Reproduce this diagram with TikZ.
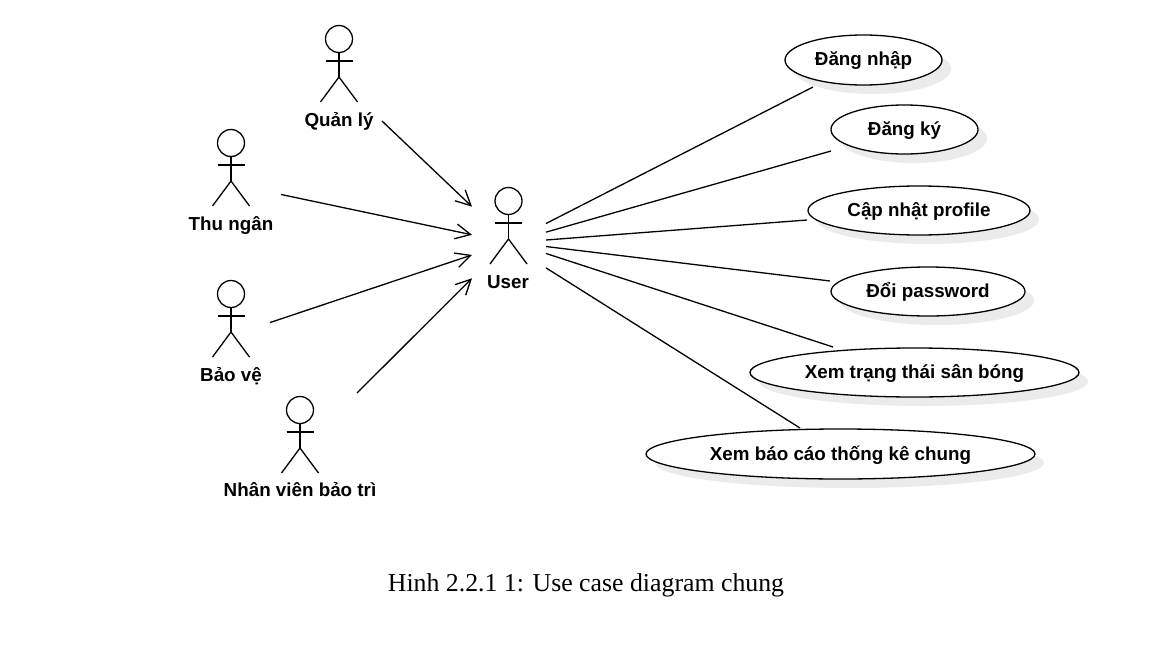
\documentclass[tikz,border=0pt]{standalone}
\usepackage{fontspec}
\setmainfont{Liberation Serif}
\newfontfamily\lblfont{Liberation Sans}
\usepackage{tikz}
\usetikzlibrary{shapes.geometric,shadows,arrows.meta}

\begin{document}
\begin{tikzpicture}[
    x=1pt, y=-1pt,
    usecase/.style={
        ellipse, draw, line width=1.3pt, fill=white, inner sep=0pt,
        font=\lblfont\bfseries\fontsize{18.8}{20}\selectfont,
        text height=15pt, text depth=3pt,
        drop shadow={shadow xshift=9pt, shadow yshift=-9pt, fill=black!8, opacity=1}
    },
    actorbox/.style={rectangle, inner sep=0pt, outer sep=0pt},
    lbl/.style={font=\lblfont\bfseries\fontsize{18.8}{20}\selectfont, inner sep=1pt, text height=15pt, text depth=3pt},
    figline/.style={line width=1.3pt},
    assoc/.style={line width=1.3pt},
    arrow/.style={-{Straight Barb[length=15pt,width=15pt]}, line width=1.3pt},
    stick/.pic={
        \draw[figline] (0,0) circle (13.5);
        \draw[figline] (0,13.5) -- (0,38);
        \draw[figline] (-13.5,22) -- (13.5,22);
        \draw[figline] (-18.5,63) -- (0,38) -- (18.5,63);
    }
]
\useasboundingbox (0,0) rectangle (1158,669);

% Actors
\pic at (339,39) {stick};
\pic at (231,143) {stick};
\pic at (231,294) {stick};
\pic at (300,410) {stick};
\pic at (508.5,201) {stick};

\node[lbl] (lblManager) at (339,120) {Quản lý};
\node[lbl] (lblCashier) at (231,224) {Thu ngân};
\node[lbl] (lblGuard)   at (231,375) {Bảo vệ};
\node[lbl] (lblMaint)   at (300,490) {Nhân viên bảo trì};
\node[lbl] (lblUser)    at (508,282) {User};

% Free outline of each actor, connectors start on it
\node[actorbox, minimum width=86pt,  minimum height=104pt] (Manager) at (339,78)  {};
\node[actorbox, minimum width=100pt, minimum height=104pt] (Cashier) at (231,182) {};
\node[actorbox, minimum width=78pt,  minimum height=104pt] (Guard)   at (231,333) {};
\node[actorbox, minimum width=114pt, minimum height=108pt] (Maint)   at (300,447) {};
\node[actorbox, minimum width=74pt,  minimum height=104pt] (User)    at (509,240) {};

% Use cases
\node[usecase, minimum width=157pt, minimum height=50pt] (Login)   at (863.5,60)  {Đăng nhập};
\node[usecase, minimum width=147pt, minimum height=49pt] (Signup)  at (904.5,129.5) {Đăng ký};
\node[usecase, minimum width=222pt, minimum height=49pt] (Profile) at (919,210.5) {Cập nhật profile};
\node[usecase, minimum width=194pt, minimum height=49pt] (Passwd)  at (928,291.5) {Đổi password};
\node[usecase, minimum width=329pt, minimum height=49pt] (Status)  at (914.5,372.5) {Xem trạng thái sân bóng};
\node[usecase, minimum width=389pt, minimum height=50pt] (Report)  at (840.5,454) {Xem báo cáo thống kê chung};

\node[font=\fontsize{25.8}{28}\selectfont, inner sep=0pt] (caption) at (586,585) {Hinh 2.2.1 1: Use case diagram chung};

% Ends that stop short of the ellipses
\coordinate (endLogin)   at (813,87);
\coordinate (endSignup)  at (831,151);
\coordinate (endProfile) at (807,220);
\coordinate (endPasswd)  at (830,281);
\coordinate (endStatus)  at (833,347);
\coordinate (endReport)  at (800,428);

% Edges
\draw[arrow] (Manager.-45) -- (User.138.3);
\draw[arrow] (Cashier.-14.6) -- (User.172.3);
\draw[arrow] (Guard.15.8) -- (User.202);
\draw[arrow] (Maint.north east) -- (User.226.5);

\draw[assoc] (User.24.7) -- (endLogin);
\draw[assoc] (User.12.2) -- (endSignup);
\draw[assoc] (User.east) -- (endProfile);
\draw[assoc] (User.-10.7) -- (endPasswd);
\draw[assoc] (User.-20.7) -- (endStatus);
\draw[assoc] (User.-37.1) -- (endReport);

\end{tikzpicture}
\end{document}
